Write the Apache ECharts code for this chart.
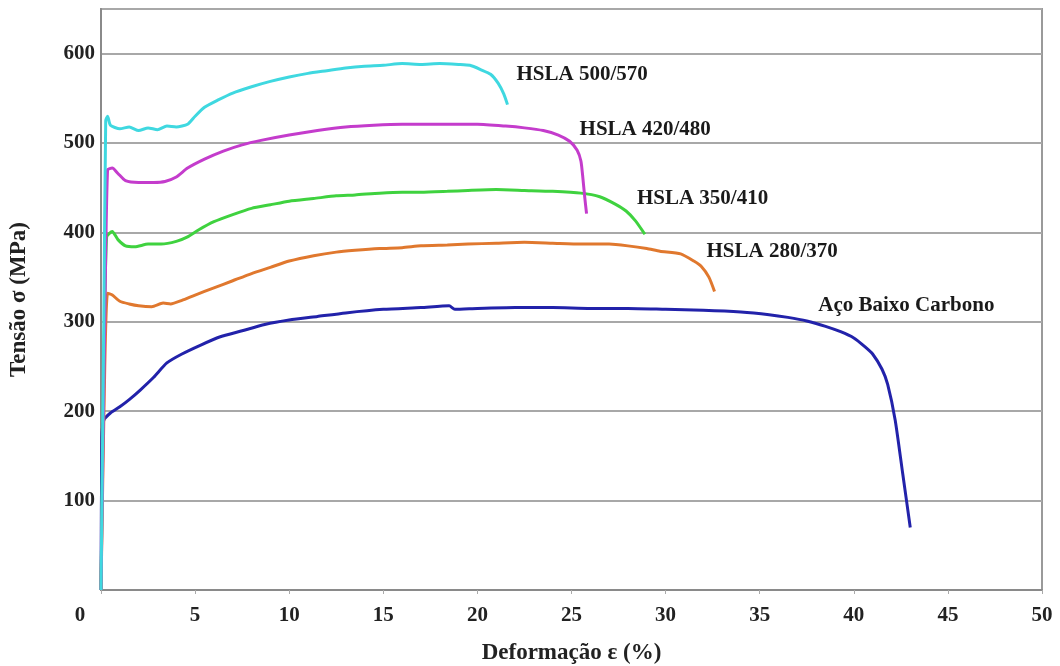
<!DOCTYPE html>
<html>
<head>
<meta charset="utf-8">
<script src="https://cdn.jsdelivr.net/npm/echarts@6/dist/echarts.min.js"></script>
<style>
  html, body { margin: 0; padding: 0; background: #fff; }
  #main { width: 1060px; height: 666px; }
</style>
</head>
<body>
<div id="main"></div>
<script>
// curvas tensão x deformação: [deformação %, tensão MPa]
const acoBaixoCarbono = [[0,0],[0.05,170],[0.15,190],[0.5,198],[1,205],[1.5,213],[2.1,224],[2.8,238],[3.5,254],[4.3,264],[5.3,274],[6.3,283],[7.5,290],[8.7,297],[10,302],[11.5,306],[13,310],[15,314],[17,316],[18.5,318],[18.8,314],[20,315],[22,316],[24,316],[26,315],[28,315],[30,314],[32,313],[34,311],[35.5,308],[36.5,305],[37.5,301],[38.5,295],[39.3,289],[40,282],[40.6,272],[41,264],[41.5,247],[41.8,230],[42.2,190],[42.6,130],[43,70]];
const hsla280 = [[0,0],[0.2,250],[0.35,332],[0.6,330],[1,323],[1.5,320],[2,318],[2.7,317],[3.3,321],[3.7,320],[4.3,324],[5,330],[6,338],[7,346],[8,354],[9,361],[10,368],[11.3,374],[12.5,378],[13.5,380],[14.8,382],[16,383],[17,385],[18.4,386],[19.5,387],[21,388],[22.5,389],[24,388],[25.5,387],[27,387],[28,385],[29,382],[29.7,379],[30.8,376],[31.5,368],[31.9,362],[32.3,350],[32.6,334]];
const hsla350 = [[0,0],[0.15,250],[0.3,395],[0.6,401],[0.9,392],[1.3,385],[1.8,384],[2.5,387],[3.2,387],[4,390],[4.6,395],[5.2,403],[6,412],[7,420],[8,427],[9,431],[10,435],[11.3,438],[12.5,441],[13.5,442],[14.8,444],[16,445],[17,445],[18.4,446],[19.5,447],[21,448],[22.5,447],[24,446],[25.5,444],[26.5,440],[27.3,432],[27.9,424],[28.4,413],[28.9,398]];
const hsla420 = [[0,0],[0.2,300],[0.35,470],[0.6,472],[0.9,466],[1.3,458],[2,456],[2.8,456],[3.4,457],[4,462],[4.6,472],[5.5,482],[6.5,491],[7.5,498],[8.5,503],[10,509],[11.5,514],[13,518],[14.5,520],[16,521],[18,521],[20,521],[21.5,519],[22.5,517],[23.5,514],[24.3,509],[24.9,502],[25.3,492],[25.5,480],[25.6,462],[25.7,440],[25.8,421]];
const hsla500 = [[0,0],[0.15,300],[0.25,525],[0.35,530],[0.5,520],[1,516],[1.5,518],[2,514],[2.5,517],[3,515],[3.5,519],[4,518],[4.6,521],[5,530],[5.5,540],[6.2,548],[7,556],[8,563],[9,569],[10,574],[11,578],[12,581],[13,584],[14,586],[15,587],[16,589],[17,588],[18,589],[19,588],[19.6,587],[20.2,582],[20.7,577],[21.1,567],[21.4,555],[21.6,543]];

const nomes = ['Aço Baixo Carbono', 'HSLA 280/370', 'HSLA 350/410', 'HSLA 420/480', 'HSLA 500/570'];
const cores = ['#2222aa', '#e0782e', '#3fd23f', '#c43ccc', '#3fd8e0'];
const curvas = [acoBaixoCarbono, hsla280, hsla350, hsla420, hsla500];
// deslocamento dos rótulos a partir do fim de cada curva
const offsets = [[-100, -222], [-16, -40], [-16, -36], [-15, -84], [1, -30]];

const fonte = '"Liberation Serif", "Times New Roman", serif';

let myChart = echarts.init(document.getElementById('main'));

let option = {
  animation: false,
  grid: {
    left: 101, top: 9, right: 18, bottom: 76,
    outerBoundsMode: 'none',
    containLabel: false,
    show: true,
    borderColor: '#9a9a9a',
    borderWidth: 2
  },
  xAxis: {
    type: 'value',
    min: 0, max: 50, interval: 5,
    name: 'Deformação ε (%)',
    nameLocation: 'middle',
    nameGap: 52,
    nameTextStyle: { fontFamily: fonte, fontWeight: 'bold', fontSize: 23, color: '#222' },
    axisLine: { lineStyle: { color: '#8a8a8a', width: 2 } },
    axisTick: { show: true, length: 4, lineStyle: { color: '#aaa' } },
    splitLine: { show: false },
    axisLabel: {
      margin: 15,
      fontFamily: fonte, fontWeight: 'bold', fontSize: 21, color: '#222',
      formatter: v => v === 0 ? '{z|0}' : String(v),
      rich: { z: { fontFamily: fonte, fontWeight: 'bold', fontSize: 21, color: '#222', padding: [0, 42, 0, 0] } }
    }
  },
  yAxis: {
    type: 'value',
    min: 0, max: 650, interval: 100,
    name: 'Tensão σ (MPa)',
    nameLocation: 'middle',
    nameGap: 70,
    nameRotate: 90,
    nameTextStyle: { fontFamily: fonte, fontWeight: 'bold', fontSize: 23, color: '#222' },
    axisLine: { show: true, lineStyle: { color: '#8a8a8a', width: 2 } },
    axisTick: { show: false },
    splitLine: { show: true, lineStyle: { color: '#a8a8a8', width: 2 } },
    axisLabel: {
      margin: 6,
      fontFamily: fonte, fontWeight: 'bold', fontSize: 21, color: '#222',
      formatter: v => (v === 0 || v % 100 !== 0) ? '' : String(v)
    }
  },
  series: curvas.map((dados, i) => ({
    name: nomes[i],
    type: 'line',
    data: dados,
    showSymbol: false,
    smooth: 0.2,
    lineStyle: { color: cores[i], width: 3 },
    endLabel: {
      show: true,
      formatter: nomes[i],
      offset: offsets[i],
      fontFamily: fonte, fontWeight: 'bold', fontSize: 21, color: '#1a1a1a'
    }
  }))
};

myChart.setOption(option);
</script>
</body>
</html>
